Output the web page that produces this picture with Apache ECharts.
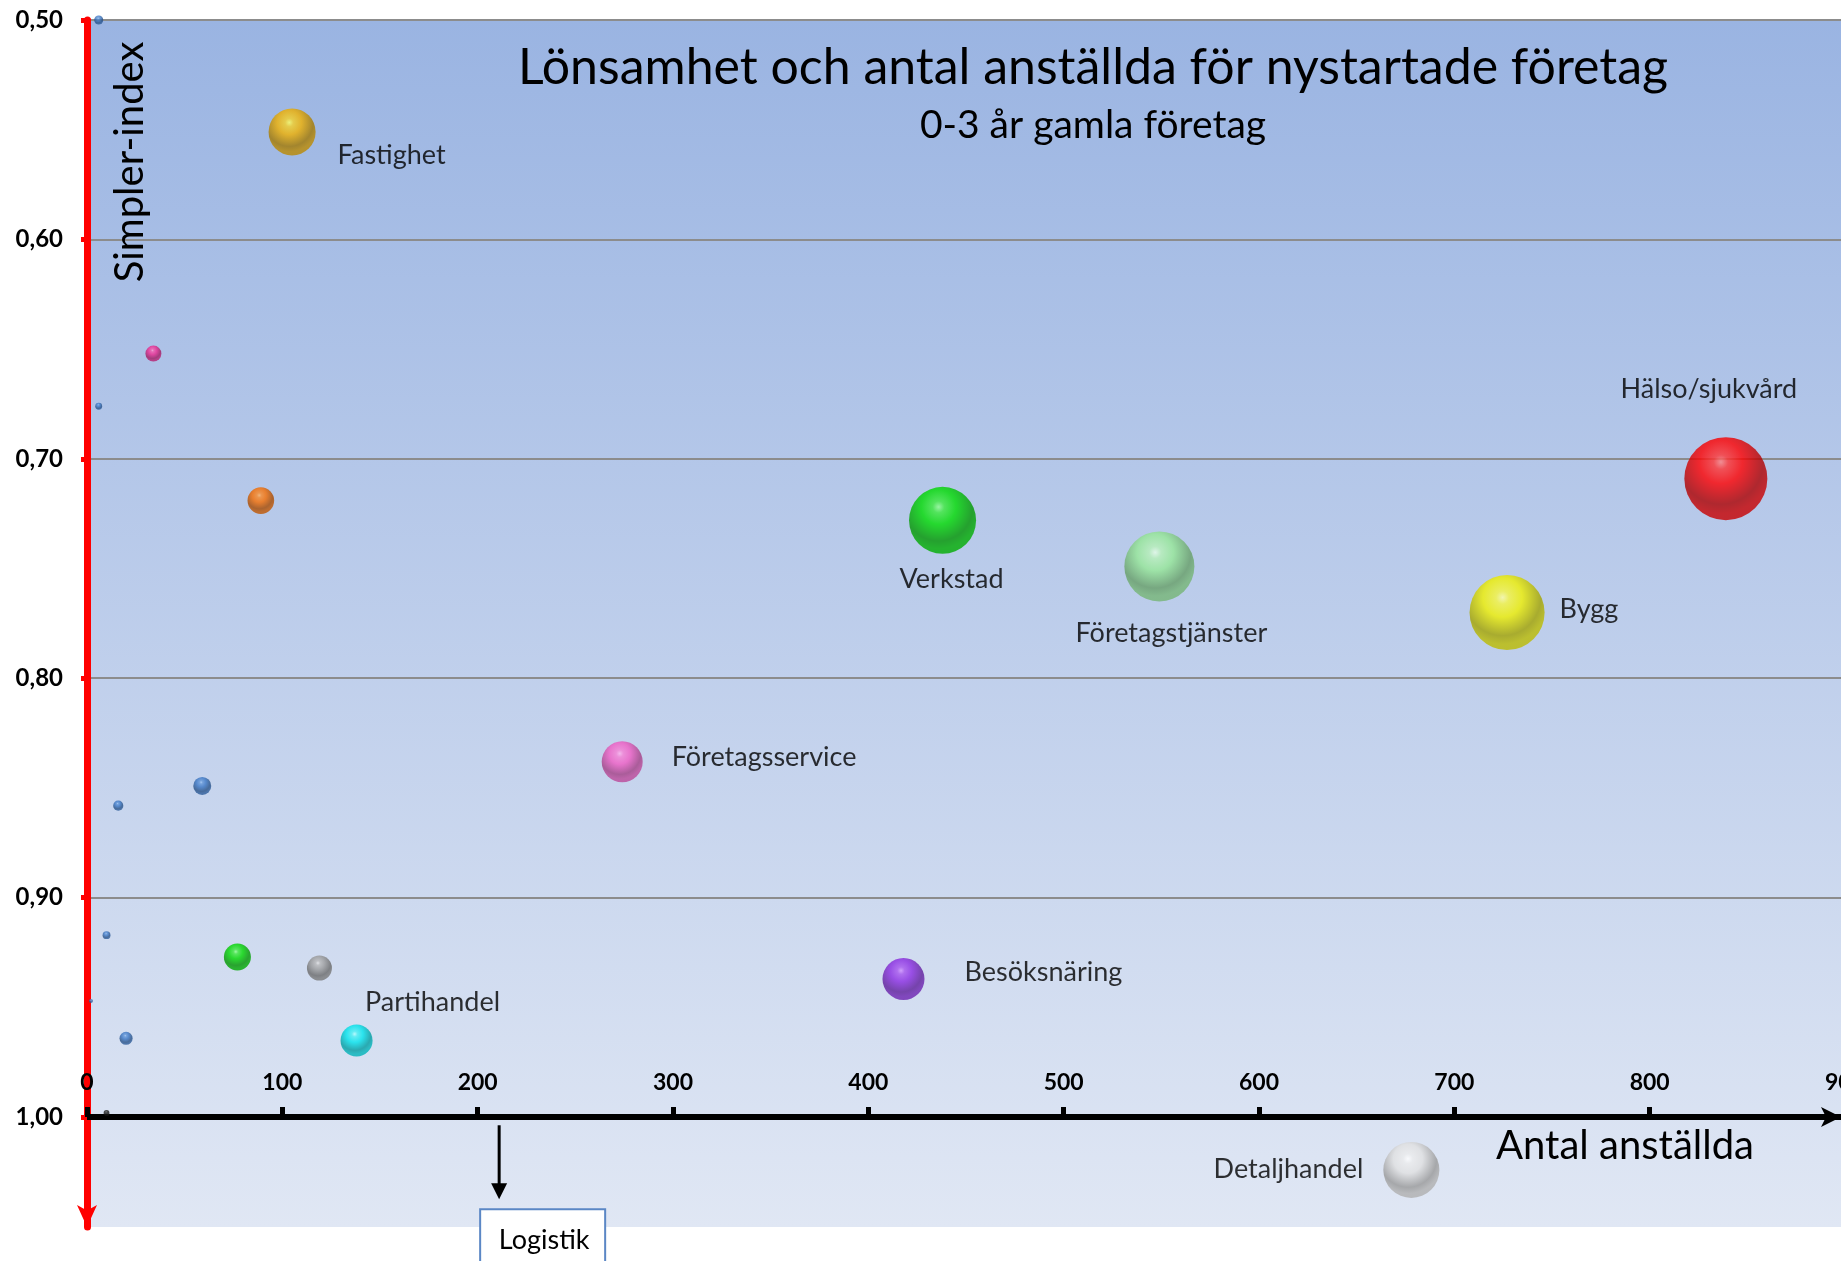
<!DOCTYPE html>
<html>
<head>
<meta charset="utf-8">
<script src="https://cdn.jsdelivr.net/npm/echarts@6/dist/echarts.min.js"></script>
<style>
  html, body { margin: 0; padding: 0; background: #ffffff; }
  #chart { width: 1841px; height: 1261px; }
</style>
</head>
<body>
<div id="chart"></div>
<script>
// Branscher (tomma namn = små branscher utan etikett)
const branscher = [
  '', 'Fastighet', '', '', '', '', '', '', '', '', '', '', 'Partihandel', '',
  'Företagsservice', 'Verkstad', 'Företagstjänster', 'Bygg', 'Hälso/sjukvård',
  'Besöksnäring', 'Detaljhandel'
];
// Antal anställda (x)
const anstallda = [
  6, 105, 34, 6, 89, 59, 16, 10, 77, 119, 2, 20, 138, 10,
  274, 438, 549, 727, 839, 418, 678
];
// Simpler-index (y)
const simplerIndex = [
  0.500, 0.551, 0.652, 0.676, 0.719, 0.849, 0.858, 0.917, 0.927, 0.932, 0.947, 0.964, 0.965, 0.998,
  0.838, 0.728, 0.749, 0.770, 0.709, 0.937, 1.024
];
// Bubbelstorlek (antal företag)
const antalForetag = [
  12, 321, 37, 7, 103, 47, 15, 9, 106, 91, 2.3, 25, 149, 5,
  244, 652, 712, 818, 1000, 256, 456
];
// Logistik ligger utanför skalan (under 1,05)
const logistikAnstallda = 211;

const xTicks = { min: 0, max: 900, step: 100 };
const yTicks = { min: 0.5, max: 1.0, step: 0.1 };
const yAxisEnd = 1.05;

// Färger per bransch: [grundfärg, högdager]
const bubbleColors = [
  ['#3a76c4', '#9cc4f4'], ['#f0b000', '#ffff60'], ['#ec2890', '#ff9ad0'], ['#3a76c4', '#9cc4f4'],
  ['#f56d00', '#ffb060'], ['#3a76c4', '#9cc4f4'], ['#3a76c4', '#9cc4f4'], ['#3a76c4', '#9cc4f4'],
  ['#00d800', '#90ff90'], ['#9a9a9a', '#e4e4e4'], ['#3a76c4', '#9cc4f4'], ['#3a76c4', '#9cc4f4'],
  ['#00e4ec', '#b0ffff'], ['#1a1a1a', '#707070'],
  ['#f05cc4', '#ffb0ec'], ['#00dc00', '#90ff90'], ['#96e896', '#e8ffe8'], ['#f0f000', '#ffffa0'],
  ['#ff0000', '#ff8080'], ['#8a2be2', '#d090ff'], ['#e0e0e0', '#ffffff']
];

// Etikettplacering (förskjutning i px)
const labelPlacement = {
  'Fastighet':        { position: 'right',  dx: 17, dy: 23 },
  'Hälso/sjukvård':   { position: 'top',    dx: -17, dy: -29 },
  'Verkstad':         { position: 'bottom', dx: 9, dy: 7 },
  'Företagstjänster': { position: 'bottom', dx: 12, dy: 13 },
  'Bygg':             { position: 'right',  dx: 10, dy: -3 },
  'Företagsservice':  { position: 'right',  dx: 24, dy: -4 },
  'Besöksnäring':     { position: 'right',  dx: 35, dy: -7 },
  'Partihandel':      { position: 'top',    dx: 76, dy: -4 },
  'Detaljhandel':     { position: 'left',   dx: -15, dy: -1 }
};

const FONT = 'Lato, "Open Sans", sans-serif';

function hexToRgb(h) {
  const n = parseInt(h.slice(1), 16);
  return [(n >> 16) & 255, (n >> 8) & 255, n & 255];
}
function mix(h, target, t) {
  const a = hexToRgb(h), b = hexToRgb(target);
  const c = a.map((v, i) => Math.round(v + (b[i] - v) * t));
  return 'rgb(' + c.join(',') + ')';
}
// Klotliknande fyllning med högdager uppe till vänster och mörkare kant
function sphere(pair) {
  const base = pair[0], light = pair[1];
  return new echarts.graphic.RadialGradient(0.44, 0.3, 0.62, [
    { offset: 0, color: light },
    { offset: 0.14, color: mix(base, light, 0.4) },
    { offset: 0.42, color: base },
    { offset: 0.82, color: mix(base, '#000000', 0.32) },
    { offset: 1, color: mix(base, '#000000', 0.22) }
  ]);
}

const maxSize = Math.max.apply(null, antalForetag);
const data = branscher.map((name, i) => {
  const item = {
    name: name,
    value: [anstallda[i], simplerIndex[i], antalForetag[i]],
    itemStyle: { color: sphere(bubbleColors[i]) }
  };
  const lp = labelPlacement[name];
  if (lp) {
    item.label = { show: true, position: lp.position };
  }
  return item;
});

const fmtIndex = v => v.toFixed(2).replace('.', ',');

const chart = echarts.init(document.getElementById('chart'), null, { renderer: 'canvas' });

const gridLeft = 87, gridTop = 20, gridRight = -4;

chart.setOption({
  animation: false,
  backgroundColor: '#ffffff',
  grid: [
    {
      // plotyta för bubblorna, y ner till 1,05
      left: gridLeft, top: gridTop, right: gridRight, height: 1207,
      outerBoundsMode: 'none', containLabel: false,
      show: true, borderWidth: 0,
      backgroundColor: new echarts.graphic.LinearGradient(0, 0, 0, 1, [
        { offset: 0, color: '#9ab4e2' },
        { offset: 1, color: '#e0e7f4' }
      ])
    },
    {
      // axlar och stödlinjer, y 0,50 till 1,00
      left: gridLeft, top: gridTop, right: gridRight, height: 1097,
      outerBoundsMode: 'none', containLabel: false
    }
  ],
  xAxis: [
    { gridIndex: 0, type: 'value', min: xTicks.min, max: xTicks.max, show: false },
    {
      gridIndex: 1, type: 'value', min: xTicks.min, max: xTicks.max, interval: xTicks.step,
      position: 'bottom',
      axisLine: {
        show: true, onZero: false,
        lineStyle: { color: '#000000', width: 6 },
        symbol: ['none', 'arrow'], symbolSize: [15, 20], symbolOffset: [0, -4]
      },
      axisTick: { show: true, inside: true, length: 10, lineStyle: { color: '#000000', width: 5 } },
      axisLabel: {
        inside: true, margin: 23,
        color: '#000000', fontFamily: FONT, fontWeight: 'bold', fontSize: 23
      },
      splitLine: { show: false }
    }
  ],
  yAxis: [
    {
      gridIndex: 0, type: 'value', inverse: true, min: yTicks.min, max: yAxisEnd,
      axisLine: {
        show: true, onZero: false,
        lineStyle: { color: '#ff0000', width: 7 },
        symbol: ['arrow', 'none'], symbolSize: [15, 22], symbolOffset: [0, 0]
      },
      axisTick: { show: false },
      axisLabel: { show: false },
      splitLine: { show: false }
    },
    {
      gridIndex: 1, type: 'value', inverse: true, min: yTicks.min, max: yTicks.max, interval: yTicks.step,
      axisLine: { show: false },
      axisTick: { show: true, inside: false, length: 6, lineStyle: { color: '#ff0000', width: 5 } },
      axisLabel: {
        margin: 24, formatter: fmtIndex,
        color: '#000000', fontFamily: FONT, fontWeight: 'bold', fontSize: 24
      },
      splitLine: { show: true, lineStyle: { color: '#8c8c8c', width: 2 } }
    }
  ],
  series: [
    {
      type: 'scatter',
      xAxisIndex: 0, yAxisIndex: 0,
      data: data,
      symbol: 'circle',
      symbolSize: v => 83 * Math.sqrt(v[2] / maxSize),
      label: {
        show: false,
        formatter: p => p.name,
        color: '#000000', fontFamily: FONT, fontSize: 27
      },
      labelLayout: function (params) {
        const lp = labelPlacement[branscher[params.dataIndex]];
        return lp ? { dx: lp.dx, dy: lp.dy } : {};
      },
      emphasis: { disabled: true },
      z: 5
    }
  ]
});

// Rubriker, axeltitlar samt pil och ruta för Logistik (utanför skalan)
const p = chart.convertToPixel({ gridIndex: 0 }, [logistikAnstallda, yTicks.max]);
const lx = p[0], ly = p[1];
chart.setOption({
  graphic: [
    {
      id: 'rubrik', type: 'text', x: 1093, y: 68, z: 10,
      style: { text: 'Lönsamhet och antal anställda för nystartade företag', font: '50px ' + FONT, fill: '#000000', align: 'center', verticalAlign: 'middle' }
    },
    {
      id: 'underrubrik', type: 'text', x: 1093, y: 125, z: 10,
      style: { text: '0-3 år gamla företag', font: '39px ' + FONT, fill: '#000000', align: 'center', verticalAlign: 'middle' }
    },
    {
      id: 'xtitel', type: 'text', x: 1625, y: 1146, z: 10,
      style: { text: 'Antal anställda', font: '40px ' + FONT, fill: '#000000', align: 'center', verticalAlign: 'middle' }
    },
    {
      id: 'ytitel', type: 'text', x: 130, y: 162, rotation: Math.PI / 2, z: 10,
      style: { text: 'Simpler-index', font: '40px ' + FONT, fill: '#000000', align: 'center', verticalAlign: 'middle' }
    },
    {
      id: 'logistikLinje', type: 'line', z: 10,
      shape: { x1: lx, y1: ly + 8, x2: lx, y2: ly + 68 },
      style: { stroke: '#000000', lineWidth: 3 }
    },
    {
      id: 'logistikPil', type: 'polygon', z: 10,
      shape: { points: [[lx - 8, ly + 66], [lx + 8, ly + 66], [lx, ly + 82]] },
      style: { fill: '#000000' }
    },
    {
      id: 'logistikRuta', type: 'rect', z: 10,
      shape: { x: lx - 19, y: ly + 92, width: 125, height: 80 },
      style: { fill: '#ffffff', stroke: '#5b87c5', lineWidth: 2 }
    },
    {
      id: 'logistikText', type: 'text', z: 11, x: lx + 45, y: ly + 123,
      style: { text: 'Logistik', font: '27px ' + FONT, fill: '#000000', align: 'center', verticalAlign: 'middle' }
    }
  ]
});
</script>
</body>
</html>
